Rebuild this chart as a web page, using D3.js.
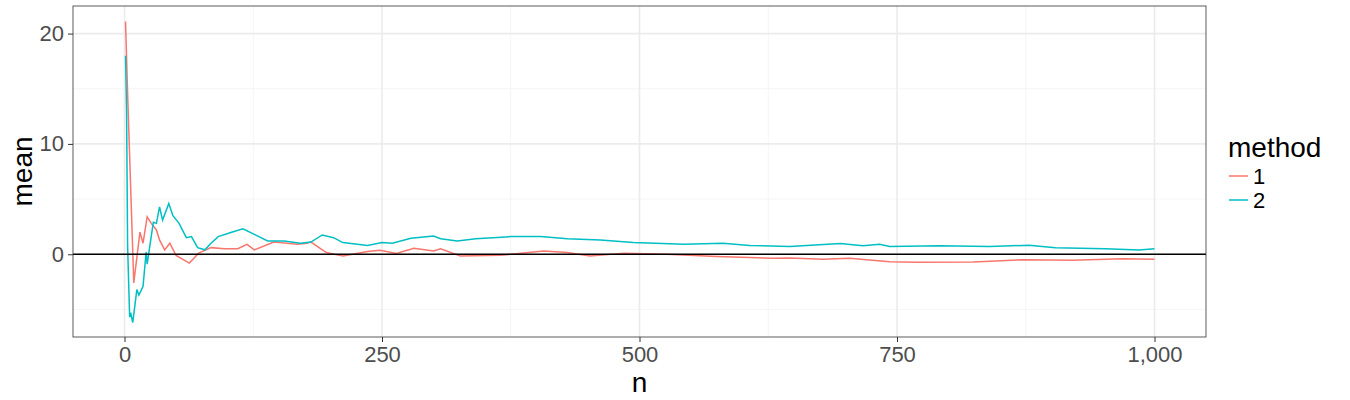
<!DOCTYPE html>
<html lang="en">
<head>
<meta charset="UTF-8">
<script src="https://d3js.org/d3.v7.min.js"></script>
<style>body{margin:0;background:#fff;font-family:"Liberation Sans",Arial,sans-serif}</style>
</head>
<body>
<svg width="1350" height="400"></svg>
<script>
const methods = ["1", "2"];
const colors = ["#F8766D", "#00BFC4"];
// [n, running mean]
const method1 = [[1,21.1],[3,14.6],[9,-2.6],[15,2.0],[18,1.0],[22,3.4],[26,2.8],[31,2.2],[34,1.3],[39,0.4],[44,1.0],[50,-0.1],[63,-0.8],[72,0.1],[84,0.6],[97,0.5],[110,0.5],[119,0.9],[126,0.4],[145,1.1],[168,0.9],[177,1.0],[181,1.1],[196,0.15],[212,-0.15],[236,0.24],[248,0.36],[264,0.06],[281,0.55],[300,0.3],[307,0.5],[326,-0.15],[365,-0.1],[407,0.3],[430,0.15],[452,-0.15],[485,0.1],[526,0],[575,-0.2],[607,-0.3],[630,-0.36],[646,-0.33],[678,-0.45],[704,-0.36],[743,-0.67],[769,-0.73],[824,-0.7],[872,-0.5],[920,-0.55],[969,-0.4],[1000,-0.45]];
const method2 = [[1,18],[2,13],[3,0.8],[5,-5.7],[6,-5.3],[8,-6.2],[12,-3.2],[14,-3.7],[18,-2.9],[21,0.2],[22,-0.9],[25,1.0],[28,2.9],[31,2.8],[34,4.3],[37,3.1],[43,4.6],[47,3.5],[53,2.8],[60,1.5],[65,1.6],[71,0.6],[78,0.4],[84,1.0],[91,1.6],[104,2.0],[115,2.3],[126,1.8],[139,1.2],[155,1.2],[171,1.0],[181,1.1],[192,1.75],[203,1.5],[212,1.06],[236,0.8],[250,1.06],[260,1.0],[278,1.45],[300,1.65],[307,1.4],[323,1.2],[341,1.4],[375,1.6],[404,1.6],[430,1.4],[462,1.3],[494,1.06],[543,0.9],[581,1.0],[607,0.8],[646,0.7],[695,0.97],[717,0.76],[733,0.9],[743,0.7],[791,0.76],[840,0.7],[878,0.82],[904,0.58],[952,0.5],[985,0.39],[1000,0.5]];
const xTicks = [0, 250, 500, 750, 1000];
const yTicks = [0, 10, 20];

const svg = d3.select("svg");
const L = 73, R = 1206, T = 6, B = 337;
const x = d3.scaleLinear().domain([-50, 1050]).range([L, R]);
const y = d3.scaleLinear().domain([-7.5, 22.5]).range([B, T]);

const grid = svg.append("g");
[-5, 5, 15].forEach(v => grid.append("line").attr("x1", L).attr("x2", R)
  .attr("y1", y(v)).attr("y2", y(v)).attr("stroke", "#f2f2f2").attr("stroke-width", 0.8));
[125, 375, 625, 875].forEach(v => grid.append("line").attr("y1", T).attr("y2", B)
  .attr("x1", x(v)).attr("x2", x(v)).attr("stroke", "#f2f2f2").attr("stroke-width", 0.8));
yTicks.forEach(v => grid.append("line").attr("x1", L).attr("x2", R)
  .attr("y1", y(v)).attr("y2", y(v)).attr("stroke", "#ebebeb").attr("stroke-width", 1.6));
xTicks.forEach(v => grid.append("line").attr("y1", T).attr("y2", B)
  .attr("x1", x(v)).attr("x2", x(v)).attr("stroke", "#ebebeb").attr("stroke-width", 1.6));

const line = d3.line().x(d => x(d[0])).y(d => y(d[1]));
[method1, method2].forEach((s, i) => svg.append("path").datum(s).attr("d", line)
  .attr("fill", "none").attr("stroke", colors[i]).attr("stroke-width", 1.5));

svg.append("line").attr("x1", L).attr("x2", R).attr("y1", y(0)).attr("y2", y(0))
  .attr("stroke", "#000").attr("stroke-width", 1.5);
svg.append("rect").attr("x", L).attr("y", T).attr("width", R - L).attr("height", B - T)
  .attr("fill", "none").attr("stroke", "#333").attr("stroke-width", 0.8);

const xa = svg.append("g").attr("transform", `translate(0,${B})`)
  .call(d3.axisBottom(x).tickValues(xTicks).tickSize(5).tickPadding(4));
const ya = svg.append("g").attr("transform", `translate(${L},0)`)
  .call(d3.axisLeft(y).tickValues(yTicks).tickSize(5).tickPadding(4));
[xa, ya].forEach(a => {
  a.select(".domain").remove();
  a.selectAll("line").attr("stroke", "#333");
  a.selectAll("text").attr("fill", "#4d4d4d").style("font-size", "22px")
    .style("font-family", "Liberation Sans, Arial, sans-serif");
});

svg.append("text").attr("x", (L + R) / 2).attr("y", 392).attr("text-anchor", "middle")
  .style("font-size", "28px").text("n");
svg.append("text").attr("transform", `translate(32,${(T + B) / 2}) rotate(-90)`)
  .attr("text-anchor", "middle").style("font-size", "28px").text("mean");

const lg = svg.append("g").attr("transform", "translate(1228,0)");
lg.append("text").attr("x", 0).attr("y", 157).style("font-size", "28px").text("method");
methods.forEach((m, i) => {
  const cy = 176 + i * 24;
  lg.append("line").attr("x1", 1).attr("x2", 20).attr("y1", cy).attr("y2", cy)
    .attr("stroke", colors[i]).attr("stroke-width", 1.5);
  lg.append("text").attr("x", 25).attr("y", cy + 8).style("font-size", "22px").text(m);
});
</script>
</body>
</html>
